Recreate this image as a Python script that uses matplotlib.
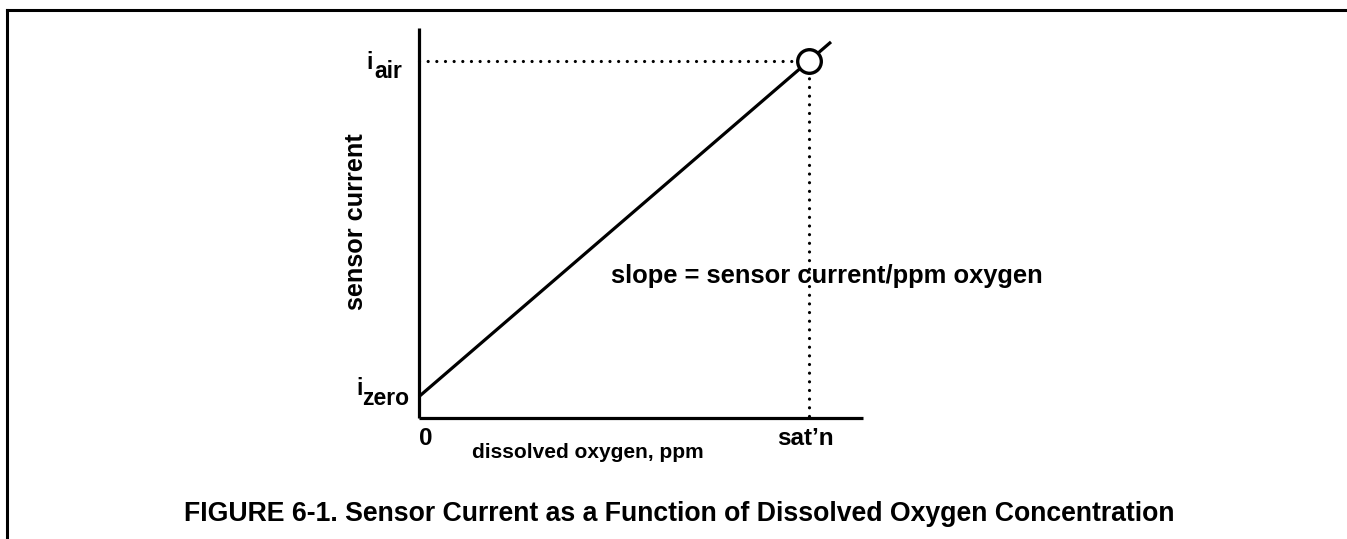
import matplotlib
matplotlib.use("Agg")
import matplotlib.pyplot as plt
from matplotlib.lines import Line2D

plt.rcParams['font.family'] = ['Liberation Sans', 'DejaVu Sans']
plt.rcParams['font.weight'] = 'bold'

# calibration line: sensor current vs dissolved oxygen (sat'n = 1)
sat_x = 1.0
i_zero = 0.06
i_air = 1.0
line_x = [0.0, 1.056]
line_y = [0.06, 1.053]
x_max = 1.138
y_max = 1.092

W, H = 1347, 539
fig = plt.figure(figsize=(W / 100, H / 100), dpi=100)

def fx(px):
    return px / W

def fy(py):
    return 1 - py / H

# frame lines of the figure page
fig.add_artist(Line2D([fx(7), 1.0], [fy(10), fy(10)], color='black', lw=2.2))
fig.add_artist(Line2D([fx(7), fx(7)], [fy(10), 0.0], color='black', lw=2.2))

ax = fig.add_axes([fx(419), fy(418), (863 - 419) / W, (418 - 28) / H])
ax.set_xlim(0, x_max)
ax.set_ylim(0, y_max)
for s in ['top', 'right']:
    ax.spines[s].set_visible(False)
for s in ['left', 'bottom']:
    ax.spines[s].set_linewidth(2.3)
    ax.spines[s].set_capstyle('butt')
ax.set_xticks([])
ax.set_yticks([])

dot = dict(color='black', lw=2.3, linestyle=(0, (0.01, 2.7)), dash_capstyle='round')
ax.plot([0, sat_x], [i_air, i_air], **dot, clip_on=False)
ax.plot([sat_x, sat_x], [i_air, 0], **dot, clip_on=False)
ax.plot(line_x, line_y, color='black', lw=2.3, clip_on=False, solid_capstyle='butt')
ax.plot([sat_x], [i_air], marker='o', ms=17, mfc='white', mec='black', mew=2.4,
        clip_on=False, zorder=5)

lab = dict(fontweight='bold', textcoords='offset pixels', va='baseline',
           annotation_clip=False)
ax.annotate('0', xy=(0, 0), xytext=(7, -27), ha='center', fontsize=17.5, **lab)
ax.annotate('sat\u2019n', xy=(sat_x, 0), xytext=(-32, -27), ha='left', fontsize=17.5, **lab)
ax.annotate('i', xy=(0, i_air), xytext=(-53, -8), ha='left', fontsize=16.5, **lab)
ax.annotate('air', xy=(0, i_air), xytext=(-45, -17), ha='left', fontsize=16.5, **lab)
ax.annotate('i', xy=(0, i_zero), xytext=(-63, 2), ha='left', fontsize=16.5, **lab)
ax.annotate('zero', xy=(0, i_zero), xytext=(-57, -8), ha='left', fontsize=16.5, **lab)

fig.text(fx(472), fy(458), 'dissolved oxygen, ppm', ha='left', va='baseline',
         fontsize=15, fontweight='bold')
fig.text(fx(368), fy(222), 'sensor current', rotation=90, ha='right', va='center',
         fontsize=18.2, fontweight='bold')
fig.text(fx(611), fy(283), 'slope = sensor current/ppm oxygen', ha='left', va='baseline',
         fontsize=18.4, fontweight='bold')
fig.text(fx(679), fy(521),
         'FIGURE 6-1. Sensor Current as a Function of Dissolved Oxygen Concentration',
         ha='center', va='baseline', fontsize=19.2, fontweight='bold')

fig.savefig('out.png', dpi=100, facecolor='white')
